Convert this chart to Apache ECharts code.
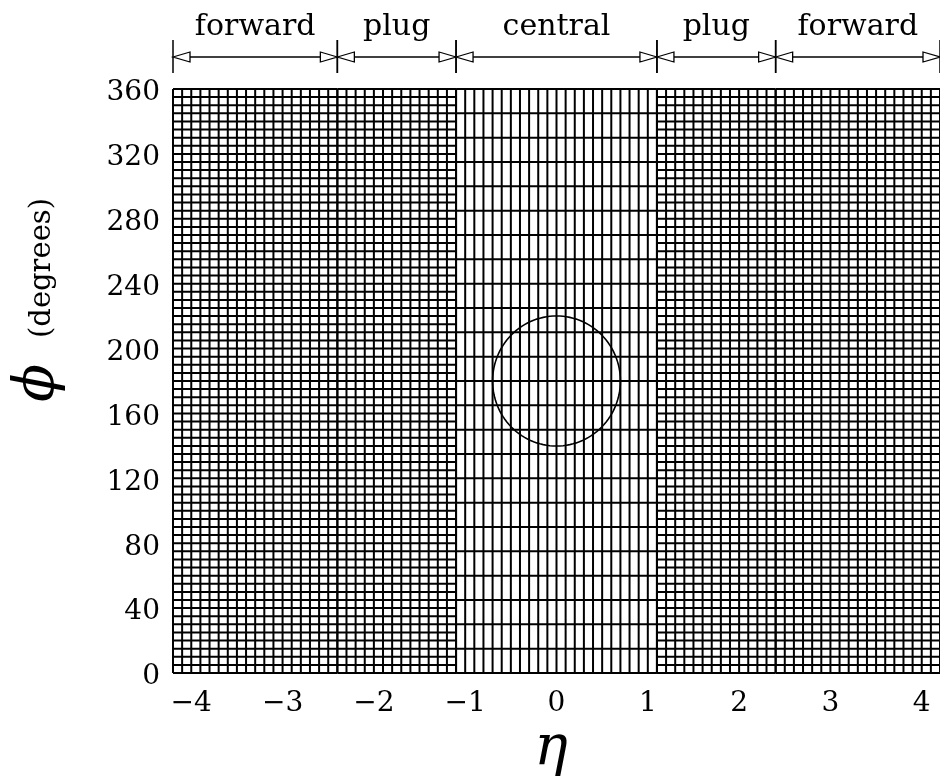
<!DOCTYPE html>
<html>
<head>
<meta charset="utf-8">
<script src="https://cdn.jsdelivr.net/npm/echarts@6/dist/echarts.min.js"></script>
<style>
  html, body { margin: 0; padding: 0; background: #fff; }
  #chart { width: 940px; height: 779px; }
</style>
</head>
<body>
<div id="chart"></div>
<script>
// Calorimeter regions, left to right in pseudorapidity
const regionNames   = ['forward', 'plug', 'central', 'plug', 'forward'];
const regionEtaLow  = [-4.2, -2.4, -1.1, 1.1, 2.4];
const regionEtaHigh = [-2.4, -1.1, 1.1, 2.4, 4.2];
// Tower segmentation of each region
const towerDeltaEta = [0.1, 0.1, 0.1, 0.1, 0.1];
const towerDeltaPhi = [5, 5, 15, 5, 5];          // degrees

// Jet cone of radius R in (eta, phi[rad]) space
const coneEta    = [0];
const conePhi    = [180];                         // degrees
const coneRadius = [0.7];

// Axis ticks
const etaTicks = [-4, -3, -2, -1, 0, 1, 2, 3, 4];
const etaRange = [-4.2, 4.2];
const phiRange = [0, 360];
const phiStep  = 40;

const SERIF = '"DejaVu Serif", "Liberation Serif", serif';
const INK = '#000';

const regionData = regionNames.map((name, i) => [
  regionEtaLow[i], regionEtaHigh[i], towerDeltaEta[i], towerDeltaPhi[i], name
]);
const coneData = coneEta.map((e, i) => [e, conePhi[i], coneRadius[i]]);

function renderRegion(params, api) {
  const lo = api.value(0), hi = api.value(1);
  const dEta = api.value(2), dPhi = api.value(3);
  const name = regionNames[params.dataIndex];
  const cs = params.coordSys;
  const children = [];
  const gridStyle = { stroke: INK, lineWidth: 2 };

  // tower boundaries in eta
  const nEta = Math.round((hi - lo) / dEta);
  for (let k = 0; k <= nEta; k++) {
    const eta = lo + k * dEta;
    const a = api.coord([eta, phiRange[0]]);
    const b = api.coord([eta, phiRange[1]]);
    children.push({ type: 'line', shape: { x1: a[0], y1: a[1], x2: b[0], y2: b[1] }, style: gridStyle });
  }
  // tower boundaries in phi
  const nPhi = Math.round((phiRange[1] - phiRange[0]) / dPhi);
  for (let j = 0; j <= nPhi; j++) {
    const phi = phiRange[0] + j * dPhi;
    const a = api.coord([lo, phi]);
    const b = api.coord([hi, phi]);
    children.push({ type: 'line', shape: { x1: a[0], y1: a[1], x2: b[0], y2: b[1] }, style: gridStyle });
  }

  // dimension marker above the plot: |<|----|>|
  const xl = api.coord([lo, phiRange[1]])[0];
  const xr = api.coord([hi, phiRange[1]])[0];
  const yA = cs.y - 32;
  const thin = { stroke: INK, lineWidth: 1.3 };
  children.push({ type: 'line', shape: { x1: xl, y1: cs.y - 49, x2: xl, y2: cs.y - 16 }, style: { stroke: INK, lineWidth: 1.5 } });
  children.push({ type: 'line', shape: { x1: xr, y1: cs.y - 49, x2: xr, y2: cs.y - 16 }, style: { stroke: INK, lineWidth: 1.5 } });
  children.push({ type: 'line', shape: { x1: xl + 17, y1: yA, x2: xr - 17, y2: yA }, style: thin });
  children.push({ type: 'polygon', shape: { points: [[xl, yA], [xl + 17, yA - 5], [xl + 17, yA + 5]] }, style: { fill: '#fff', stroke: INK, lineWidth: 1.3 } });
  children.push({ type: 'polygon', shape: { points: [[xr, yA], [xr - 17, yA - 5], [xr - 17, yA + 5]] }, style: { fill: '#fff', stroke: INK, lineWidth: 1.3 } });
  children.push({
    type: 'text',
    style: {
      text: name, x: (xl + xr) / 2, y: cs.y - 62,
      align: 'center', verticalAlign: 'middle',
      fontFamily: SERIF, fontSize: 30, fill: INK
    }
  });
  return { type: 'group', children };
}

function renderCone(params, api) {
  const eta0 = api.value(0), phi0 = api.value(1), r = api.value(2);
  const rPhiDeg = r * 180 / Math.PI;
  const pts = [];
  for (let t = 0; t < 360; t += 3) {
    const rad = t * Math.PI / 180;
    pts.push(api.coord([eta0 + r * Math.cos(rad), phi0 + rPhiDeg * Math.sin(rad)]));
  }
  return {
    type: 'polygon',
    shape: { points: pts },
    style: { fill: 'none', stroke: INK, lineWidth: 1.6 }
  };
}

const fmtEta = v => (v < 0 ? '\u2212' + Math.abs(v) : String(v));

const chart = echarts.init(document.getElementById('chart'), null, { renderer: 'canvas' });
chart.setOption({
  animation: false,
  backgroundColor: '#fff',
  grid: { left: 173, right: -1, top: 89, bottom: 106, containLabel: false },
  xAxis: {
    type: 'value', min: etaRange[0], max: etaRange[1],
    axisLine: { show: false }, axisTick: { show: false }, splitLine: { show: false },
    axisLabel: {
      customValues: etaTicks, formatter: fmtEta, margin: 17,
      fontFamily: SERIF, fontSize: 28, color: INK
    }
  },
  yAxis: {
    type: 'value', min: phiRange[0], max: phiRange[1], interval: phiStep,
    axisLine: { show: false }, axisTick: { show: false }, splitLine: { show: false },
    axisLabel: {
      margin: 13, fontFamily: SERIF, fontSize: 28, color: INK,
      verticalAlign: 'top', lineHeight: 8
    }
  },
  graphic: [
    {
      type: 'text', x: 551, y: 749,
      style: { text: '\u03B7', align: 'center', verticalAlign: 'middle',
               fontFamily: SERIF, fontStyle: 'italic', fontSize: 56, fill: INK }
    },
    {
      type: 'text', x: 38, y: 383, rotation: Math.PI / 2,
      style: { text: '\u03D5', align: 'center', verticalAlign: 'middle',
               fontFamily: SERIF, fontStyle: 'italic', fontSize: 56, fill: INK }
    },
    {
      type: 'text', x: 42, y: 268, rotation: Math.PI / 2,
      style: { text: '(degrees)', align: 'center', verticalAlign: 'middle',
               fontFamily: SERIF, fontSize: 29, fill: INK }
    }
  ],
  series: [
    {
      type: 'custom', name: 'towers', data: regionData, clip: false,
      encode: { x: [0, 1], y: [] },
      renderItem: renderRegion, silent: true
    },
    {
      type: 'custom', name: 'cone', data: coneData, clip: false,
      encode: { x: 0, y: 1 },
      renderItem: renderCone, silent: true
    }
  ]
});
</script>
</body>
</html>
